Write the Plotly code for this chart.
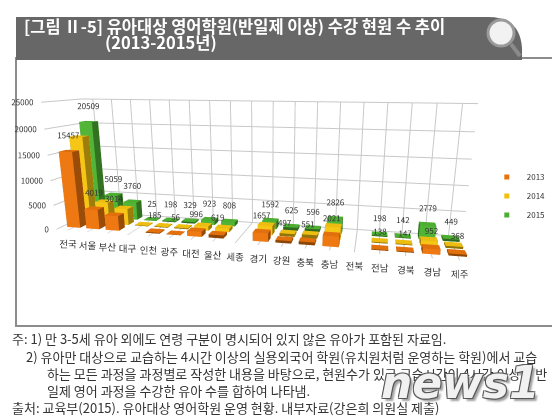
import plotly.graph_objects as go

# 시도별 유아대상 영어학원 수강 현원 (2013-2015)
regions = ["전국", "서울", "부산", "대구", "인천", "광주", "대전", "울산", "세종",
           "경기", "강원", "충북", "충남", "전북", "전남", "경북", "경남", "제주"]
years = ["2013", "2014", "2015"]
v2013 = [15457, 4019, 3014, 0, 185, 56, 996, 619, 0, 1657, 497, 551, 2021, 0, 138, 147, 952, 368]
v2014 = [17900, 4500, 3400, 110, 150, 200, 850, 700, 0, 1850, 560, 650, 2500, 0, 180, 160, 1100, 400]
v2015 = [20509, 5059, 3760, 25, 198, 329, 923, 808, 0, 1592, 625, 596, 2826, 0, 198, 142, 2779, 449]
colors = ["#E8730C", "#F0C010", "#4DAF32"]
z_ticks = [0, 5000, 10000, 15000, 20000, 25000]

FONT = "Noto Sans CJK KR"


def boxes(values, depth, w=0.34, d=0.3):
    # one mesh per series: a box for every non-zero value
    xs, ys, zs, ii, jj, kk = [], [], [], [], [], []
    faces = [(0, 1, 2), (0, 2, 3), (4, 5, 6), (4, 6, 7), (0, 1, 5), (0, 5, 4),
             (1, 2, 6), (1, 6, 5), (2, 3, 7), (2, 7, 6), (3, 0, 4), (3, 4, 7)]
    for n, v in enumerate(values):
        if not v:
            continue
        b = len(xs)
        for h in (0, v):
            for dx, dy in ((-w, -d), (w, -d), (w, d), (-w, d)):
                xs.append(n + dx)
                ys.append(depth + dy)
                zs.append(h)
        for a, c, e in faces:
            ii.append(b + a)
            jj.append(b + c)
            kk.append(b + e)
    return xs, ys, zs, ii, jj, kk


fig = go.Figure()
for depth, (name, vals, col) in enumerate(zip(years, [v2013, v2014, v2015], colors)):
    x, y, z, i, j, k = boxes(vals, depth)
    fig.add_trace(go.Mesh3d(x=x, y=y, z=z, i=i, j=j, k=k, color=col, flatshading=True,
                            lighting=dict(ambient=0.6, diffuse=0.7, specular=0.15, roughness=0.6),
                            lightposition=dict(x=2000, y=-3000, z=3000),
                            hoverinfo="skip", showlegend=False))
    # legend entry
    fig.add_trace(go.Scatter3d(x=[None], y=[None], z=[None], mode="markers", name=name,
                               marker=dict(symbol="square", size=5, color=col)))

# data labels (2013 and 2015 only, as in the original)
for depth, vals in ((0, v2013), (2, v2015)):
    idx = [n for n, v in enumerate(vals) if v]
    fig.add_trace(go.Scatter3d(x=idx, y=[depth] * len(idx), z=[vals[n] + 900 for n in idx],
                               mode="text", text=[str(vals[n]) for n in idx],
                               textfont=dict(size=8, color="#333333", family=FONT),
                               hoverinfo="skip", showlegend=False))

# category and value labels drawn flat, like the Excel chart
fig.add_trace(go.Scatter3d(x=list(range(len(regions))), y=[-0.8] * len(regions), z=[0] * len(regions),
                           mode="text", text=regions, textposition="bottom center",
                           textfont=dict(size=9.5, color="#333333", family=FONT),
                           hoverinfo="skip", showlegend=False))
fig.add_trace(go.Scatter3d(x=[-0.6] * len(z_ticks), y=[-0.8] * len(z_ticks), z=z_ticks,
                           mode="text", text=[str(t) for t in z_ticks], textposition="middle left",
                           textfont=dict(size=8, color="#333333", family=FONT),
                           hoverinfo="skip", showlegend=False))

axis_common = dict(showbackground=True, backgroundcolor="white", gridcolor="#c8c8c8",
                   showspikes=False, title="", zeroline=False, showticklabels=False)
fig.update_layout(
    width=560, height=418,
    margin=dict(l=0, r=0, t=0, b=0),
    paper_bgcolor="white",
    font=dict(family=FONT, color="#333333"),
    showlegend=True,
    legend=dict(x=0.855, y=0.55, font=dict(size=8), bgcolor="rgba(0,0,0,0)",
                itemwidth=30, tracegroupgap=0),
    scene=dict(
        domain=dict(x=[0.0, 0.92], y=[0.05, 1.0]),
        xaxis=dict(axis_common, range=[-0.6, 17.6], tickvals=list(range(len(regions)))),
        yaxis=dict(axis_common, range=[-0.8, 2.6], showgrid=False),
        zaxis=dict(axis_common, range=[0, 25000], tickvals=z_ticks),
        aspectmode="manual", aspectratio=dict(x=3.0, y=0.5, z=0.95),
        camera=dict(eye=dict(x=0.82, y=-3.3, z=0.66), center=dict(x=0.08, y=0, z=-0.266),
                    up=dict(x=0, y=0, z=1)),
    ),
)

# frame: white panel with grey border, grey title banner
fig.add_shape(type="rect", xref="paper", yref="paper", x0=8 / 560, x1=547 / 560,
              y0=1 - 318 / 418, y1=1 - 50 / 418, line=dict(color="#8c8c8c", width=2),
              fillcolor="rgba(0,0,0,0)", layer="below")
fig.add_shape(type="path", xref="paper", yref="paper",
              path="M {:.4f},{:.4f} L {:.4f},{:.4f} L {:.4f},{:.4f} Q {:.4f},{:.4f} {:.4f},{:.4f} L {:.4f},{:.4f} Z".format(
                  8 / 560, 1 - 52 / 418, 8 / 560, 1 - 9 / 418, 480 / 560, 1 - 9 / 418,
                  512 / 560, 1 - 9 / 418, 514 / 560, 1 - 40 / 418, 514 / 560, 1 - 52 / 418),
              fillcolor="#676767", line=dict(width=0), layer="below")
# magnifier icon
fig.add_shape(type="circle", xref="paper", yref="paper", x0=480 / 560, x1=506 / 560,
              y0=1 - 38 / 418, y1=1 - 12 / 418, line=dict(color="#9a9a9a", width=3),
              fillcolor="#f2f2f2")
fig.add_shape(type="line", xref="paper", yref="paper", x0=503 / 560, x1=512 / 560,
              y0=1 - 36 / 418, y1=1 - 48 / 418, line=dict(color="#8a8a8a", width=4))

fig.add_annotation(text="<b>[그림 Ⅱ-5] 유아대상 영어학원(반일제 이상) 수강 현원 수 추이</b>",
                   xref="paper", yref="paper", x=14 / 560, y=1 - 18 / 418, xanchor="left",
                   yanchor="middle", showarrow=False, font=dict(size=16.5, color="white", family=FONT))
fig.add_annotation(text="<b>(2013-2015년)</b>", xref="paper", yref="paper", x=95 / 560,
                   y=1 - 34 / 418, xanchor="left", yanchor="middle", showarrow=False,
                   font=dict(size=16.5, color="white", family=FONT))

notes = [
    (2, 330, "주: 1) 만 3-5세 유아 외에도 연령 구분이 명시되어 있지 않은 유아가 포함된 자료임."),
    (16, 348, "2) 유아만 대상으로 교습하는 4시간 이상의 실용외국어 학원(유치원처럼 운영하는 학원)에서 교습"),
    (37, 365, "하는 모든 과정을 과정별로 작성한 내용을 바탕으로, 현원수가 있고 교습시간이 4시간 이상인 반"),
    (37, 382, "일제 영어 과정을 수강한 유아 수를 합하여 나타냄."),
    (2, 399, "출처: 교육부(2015). 유아대상 영어학원 운영 현황. 내부자료(강은희 의원실 제출)"),
]
for x0, y0, txt in notes:
    fig.add_annotation(text=txt, xref="paper", yref="paper", x=x0 / 560, y=1 - y0 / 418,
                       xanchor="left", yanchor="middle", showarrow=False,
                       font=dict(size=13, color="#333333", family=FONT))

# watermark
fig.add_annotation(text="<b><i>news1</i></b>", xref="paper", yref="paper", x=452 / 560,
                   y=1 - 374 / 418, xanchor="center", yanchor="middle", showarrow=False,
                   font=dict(size=44, color="rgba(255,255,255,0.92)", family="DejaVu Sans",
                             shadow="1px 1px 0 #555, -1px -1px 0 #555, 1px -1px 0 #555, -1px 1px 0 #555, 3px 3px 2px #999"))

fig.write_html("out.html")
